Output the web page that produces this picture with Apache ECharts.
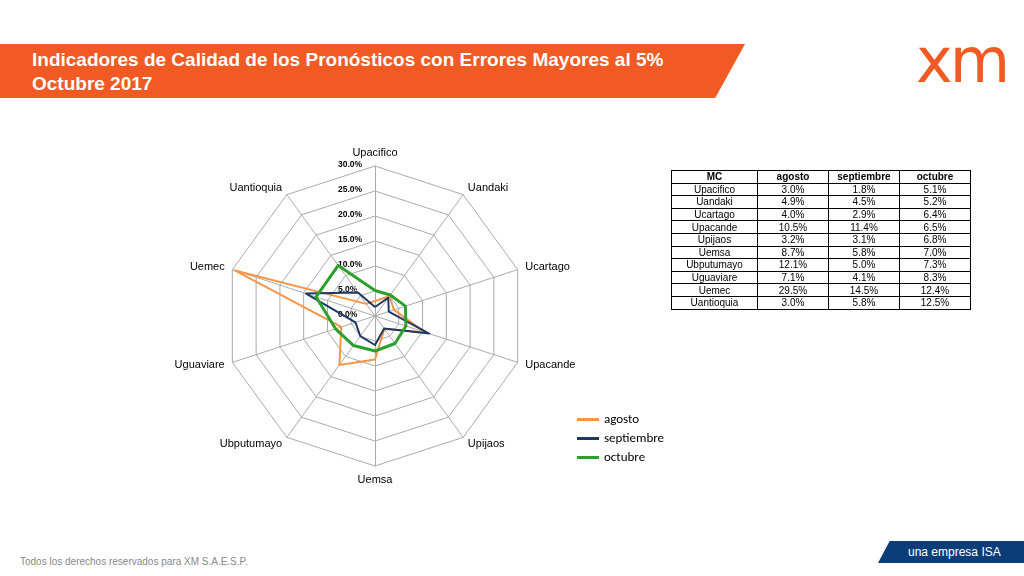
<!DOCTYPE html>
<html><head><meta charset="utf-8">
<script src="https://cdn.jsdelivr.net/npm/echarts@6/dist/echarts.min.js"></script>
<style>
body{margin:0;width:1024px;height:576px;position:relative;background:#fff;font-family:"Liberation Sans",Arial,sans-serif;overflow:hidden}
#hdr{position:absolute;left:0;top:44px;width:745px;height:54px;background:#f15a22;clip-path:polygon(0 0,100% 0,96% 100%,0 100%)}
#hdr div{color:#fff;font-weight:bold;font-size:19px;line-height:24px;padding:4px 0 0 32px}
#logo{position:absolute;left:916px;top:24px;color:#f15a22;font-size:62px;font-family:"DejaVu Sans";letter-spacing:-3px}
#foot{position:absolute;left:20px;top:556px;font-size:10px;color:#888}
#isa{position:absolute;left:878px;top:541px;width:146px;height:22px;background:#0b3d79;color:#fff;font-size:12px;line-height:22px;padding-left:30px;box-sizing:border-box;clip-path:polygon(8% 0,100% 0,100% 100%,0 100%)}
#chart{position:absolute;left:0;top:110px;width:1024px;height:440px}
table{position:absolute;left:671px;top:170px;border-collapse:collapse;font-size:10px}
td,th{border:1px solid #000;text-align:center;padding:0;height:11.6px;line-height:11px}
th{font-weight:bold}
td:first-child,th:first-child{width:85px}
td,th{width:70px}
</style></head><body>
<div id="hdr"><div>Indicadores de Calidad de los Pronósticos con Errores Mayores al 5%<br>Octubre 2017</div></div>
<div id="logo">xm</div>
<div id="chart"></div>
<table id="tbl"></table>
<div id="foot">Todos los derechos reservados para XM S.A.E.S.P.</div>
<div id="isa">una empresa ISA</div>
<script>
var categories = ['Upacifico','Uandaki','Ucartago','Upacande','Upijaos','Uemsa','Ubputumayo','Uguaviare','Uemec','Uantioquia'];
var agosto = [3.0,4.9,4.0,10.5,3.2,8.7,12.1,7.1,29.5,3.0];
var septiembre = [1.8,4.5,2.9,11.4,3.1,5.8,5.0,4.1,14.5,5.8];
var octubre = [5.1,5.2,6.4,6.5,6.8,7.0,7.3,8.3,12.4,12.5];
var seriesNames = ['agosto','septiembre','octubre'];
var colors = ['#f79646','#1f3864','#2ca02c'];

var h = '<tr><th>MC</th>' + seriesNames.map(function(s){return '<th>'+s+'</th>';}).join('') + '</tr>';
for (var i = 0; i < categories.length; i++) {
    h += '<tr><td>'+categories[i]+'</td><td>'+agosto[i].toFixed(1)+'%</td><td>'+septiembre[i].toFixed(1)+'%</td><td>'+octubre[i].toFixed(1)+'%</td></tr>';
}
document.getElementById('tbl').innerHTML = h;

// echarts radar runs counter-clockwise; reorder so the chart goes clockwise
function cw(arr){ return [arr[0]].concat(arr.slice(1).reverse()); }

var chart = echarts.init(document.getElementById('chart'));
chart.setOption({
    animation: false,
    color: colors,
    legend: {
        orient: 'vertical', left: 572, top: 298, itemGap: 6,
        icon: 'rect', itemWidth: 22, itemHeight: 3,
        textStyle: {fontSize: 13, color: '#000', fontFamily: 'Carlito, Liberation Sans'},
        data: seriesNames
    },
    radar: {
        center: [375, 206], radius: 150, shape: 'polygon', startAngle: 90,
        splitNumber: 6,
        indicator: cw(categories).map(function(c){return {name: c, min: 0, max: 30};}),
        axisName: {color: '#000', fontSize: 11, fontFamily: 'Liberation Sans'},
        nameGap: 8,
        splitArea: {show: false},
        splitLine: {lineStyle: {color: '#aaa'}},
        axisLine: {lineStyle: {color: '#aaa'}},
        axisLabel: {show: false}
    },
    series: [{
        type: 'radar', symbol: 'none',
        data: [
            {name: 'agosto', value: cw(agosto), lineStyle: {width: 2}},
            {name: 'septiembre', value: cw(septiembre), lineStyle: {width: 2}},
            {name: 'octubre', value: cw(octubre), lineStyle: {width: 3}}
        ]
    }],
    graphic: [0,5,10,15,20,25,30].map(function(v){
        return {type:'text', left: 338, top: 206 - v*5 - 6,
            style:{text: v.toFixed(1)+'%', fontSize: 8.5, fontWeight: 'bold', fill:'#000'}};
    })
});
</script>
</body></html>
